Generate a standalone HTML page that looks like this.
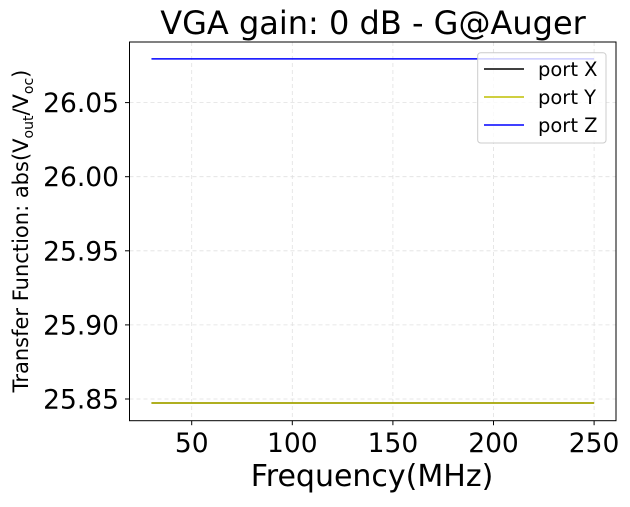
<!DOCTYPE html>
<html><head><meta charset="utf-8"><style>
body{margin:0;background:#fff;}
svg text{font-family:"DejaVu Sans","Liberation Sans",sans-serif;}
</style></head><body>
<svg id="chart" width="630" height="502" viewBox="0 0 630 502" xmlns="http://www.w3.org/2000/svg">
<rect width="630" height="502" fill="#fff"/>
<text x="373" y="34" font-size="32" text-anchor="middle">VGA gain: 0 dB - G@Auger</text>
<g id="grid"></g>
<g id="ticks"></g>
<g id="series"></g>
<rect x="129.5" y="42" width="486.5" height="378.7" fill="none" stroke="#000" stroke-width="1"/>
<text x="372" y="486" font-size="30" text-anchor="middle">Frequency(MHz)</text>
<text transform="translate(28,231) rotate(-90)" font-size="21" text-anchor="middle">Transfer Function: abs(V<tspan font-size="14" dy="5">out</tspan><tspan dy="-5">/V</tspan><tspan font-size="14" dy="5">oc</tspan><tspan dy="-5">)</tspan></text>
<g>
<rect x="477.7" y="52.7" width="128.3" height="90.3" rx="3" fill="#fff" fill-opacity="0.8" stroke="#ccc"/>
<g><line x1="484" y1="69" x2="524" y2="69" stroke="#000" stroke-width="1.5"/><text x="538" y="76" font-size="19.5">port X</text></g>
<g><line x1="484" y1="97" x2="524" y2="97" stroke="#bfbf00" stroke-width="1.5"/><text x="538" y="104" font-size="19.5">port Y</text></g>
<g><line x1="484" y1="125" x2="524" y2="125" stroke="#0000ff" stroke-width="1.5"/><text x="538" y="132" font-size="19.5">port Z</text></g>
</g>
</svg>
<script>
const freqs = [30, 250];
const portX = [25.8473, 25.8473];
const portY = [25.8473, 25.8473];
const portZ = [26.0795, 26.0795];
const xTicks = [50, 100, 150, 200, 250];
const yTicks = [25.85, 25.90, 25.95, 26.00, 26.05];
const yTickLabels = ["25.85", "25.90", "25.95", "26.00", "26.05"];

const NS = "http://www.w3.org/2000/svg";
function xs(v){ return 191.7 + (v - 50) * (100.6 / 50); }
function ys(v){ return 399 - (v - 25.85) * (74.1 / 0.05); }
function mk(tag, attrs, parent){ const e = document.createElementNS(NS, tag); for (const k in attrs) e.setAttribute(k, attrs[k]); parent.appendChild(e); return e; }
const grid = document.getElementById('grid'), ticks = document.getElementById('ticks'), series = document.getElementById('series');
xTicks.forEach(t => {
  const x = xs(t);
  const g = mk('line', {x1:x, x2:x, y1:42, y2:420.7, stroke:'#e0e0e0', 'stroke-dasharray':'4,3', 'stroke-width':0.8}, grid);
  
  
  mk('line', {x1:x, x2:x, y1:420.7, y2:425.2, stroke:'#000'}, ticks);
  const l = mk('text', {x:x, y:452, 'font-size':26.5, 'text-anchor':'middle'}, ticks);
  l.textContent = t;
  
  
});
yTicks.forEach((t, i) => {
  const y = ys(t);
  const g = mk('line', {x1:129.5, x2:616, y1:y, y2:y, stroke:'#e0e0e0', 'stroke-dasharray':'4,3', 'stroke-width':0.8}, grid);
  
  
  mk('line', {x1:125, x2:129.5, y1:y, y2:y, stroke:'#000'}, ticks);
  const l = mk('text', {x:119, y:y + 9.5, 'font-size':26.5, 'text-anchor':'end'}, ticks);
  l.textContent = yTickLabels[i];
  
  
});
[[portX, '#000', 'series-port-x'], [portY, '#bfbf00', 'series-port-y'], [portZ, '#0000ff', 'series-port-z']].forEach(([vals, c, n]) => {
  const p = mk('polyline', {points: freqs.map((f, i) => xs(f) + ',' + ys(vals[i])).join(' '), fill:'none', stroke:c, 'stroke-width':1.5}, series);
  
  
});
</script>
</body></html>
